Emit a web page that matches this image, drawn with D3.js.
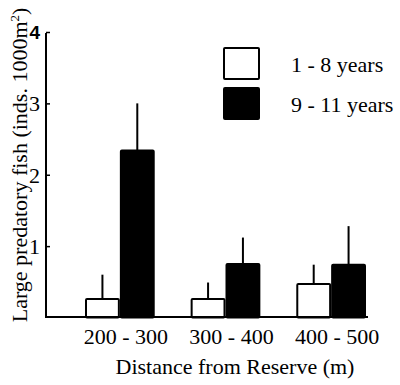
<!DOCTYPE html>
<html>
<head>
<meta charset="utf-8">
<script src="https://cdn.jsdelivr.net/npm/d3@7"></script>
<style>
  html, body { margin: 0; padding: 0; background: #fff; }
  svg { display: block; }
</style>
</head>
<body>
<div id="chart"></div>
<script>
// grouped bars with SE whiskers
const categories  = ["200 - 300", "300 - 400", "400 - 500"];
const groups      = ["1 - 8 years", "9 - 11 years"];
const youngMeans  = [0.26, 0.26, 0.47];
const youngErrors = [0.34, 0.23, 0.27];
const oldMeans    = [2.34, 0.75, 0.74];
const oldErrors   = [0.66, 0.37, 0.54];
const yTicks      = [1, 2, 3, 4];

(function () {
    const W = 400, H = 385;
    const fills = ["#fff", "#000"];
    const SERIF = "Liberation Serif";

    const svg = d3.select("#chart").append("svg")
        .attr("width", W).attr("height", H);

    // ── Scales ──────────────────────────────────────────────────────────
    const y = d3.scaleLinear().domain([0, 4]).range([317.5, 32]);
    const x0 = d3.scaleBand().domain(categories)
        .range([85, 366]).paddingInner(0.34).paddingOuter(0);
    const x1 = d3.scaleBand().domain(groups).range([0, x0.bandwidth()]);

    const rows = [];
    categories.forEach((c, i) => {
        rows.push({ cat: c, grp: groups[0], mean: youngMeans[i], err: youngErrors[i] });
        rows.push({ cat: c, grp: groups[1], mean: oldMeans[i], err: oldErrors[i] });
    });

    // ── Bars ────────────────────────────────────────────────────────────
    svg.append("g").selectAll("rect").data(rows).join("rect")
        .attr("x", d => x0(d.cat) + x1(d.grp) + 1)
        .attr("width", x1.bandwidth() - 2)
        .attr("y", d => y(d.mean))
        .attr("height", d => y(0) - y(d.mean))
        .attr("rx", 1)
        .attr("fill", d => fills[groups.indexOf(d.grp)])
        .attr("stroke", "#000").attr("stroke-width", 2);

    // ── Error whiskers (upper only) ─────────────────────────────────────
    svg.append("g").selectAll("line").data(rows).join("line")
        .attr("x1", d => x0(d.cat) + x1(d.grp) + x1.bandwidth() / 2)
        .attr("x2", d => x0(d.cat) + x1(d.grp) + x1.bandwidth() / 2)
        .attr("y1", d => y(d.mean))
        .attr("y2", d => y(d.mean + d.err))
        .attr("stroke", "#000").attr("stroke-width", 2);

    // ── Y axis ──────────────────────────────────────────────────────────
    const yAxis = svg.append("g").attr("transform", "translate(46,0)")
        .call(d3.axisLeft(y).tickValues(yTicks).tickFormat(d3.format("d"))
            .tickSizeInner(-4).tickSizeOuter(0).tickPadding(6));
    yAxis.select(".domain").remove();
    yAxis.selectAll(".tick line").attr("stroke", "#000").attr("stroke-width", 1.5);
    yAxis.selectAll(".tick text")
        .style("font-family", SERIF).style("font-size", "22px")
        .attr("fill", "#000").attr("dy", "0.33em");
    yAxis.selectAll(".tick text").filter(d => d === 4)
        .style("font-family", "Liberation Sans")
        .style("font-weight", "bold").style("font-size", "19px");
    svg.append("line")
        .attr("x1", 46).attr("x2", 46).attr("y1", 33).attr("y2", 318)
        .attr("stroke", "#000").attr("stroke-width", 2);

    // ── X axis ──────────────────────────────────────────────────────────
    svg.append("line")
        .attr("x1", 45).attr("x2", 368).attr("y1", 317).attr("y2", 317)
        .attr("stroke", "#000").attr("stroke-width", 2);
    const xAxis = svg.append("g").attr("transform", "translate(6,317)")
        .call(d3.axisBottom(x0).tickSize(0).tickPadding(0));
    xAxis.select(".domain").remove();
    xAxis.selectAll(".tick text")
        .style("font-family", SERIF).style("font-size", "22px")
        .attr("fill", "#000")
        .attr("dy", null).attr("y", 27);

    // ── Axis titles ─────────────────────────────────────────────────────
    svg.append("text")
        .attr("x", 235).attr("y", 374)
        .attr("text-anchor", "middle")
        .style("font-family", SERIF).style("font-size", "22px")
        .text("Distance from Reserve (m)");

    const yt = svg.append("text")
        .attr("transform", "translate(27,165) rotate(-90)")
        .attr("text-anchor", "middle")
        .style("font-family", SERIF).style("font-size", "22px");
    yt.append("tspan").text("Large predatory fish (inds. 1000m");
    yt.append("tspan").style("font-size", "13px").attr("dy", -8).text("2");
    yt.append("tspan").attr("dy", 8).text(")");

    // ── Legend ──────────────────────────────────────────────────────────
    const legend = svg.append("g").attr("transform", "translate(224,48)");
    groups.forEach((g, i) => {
        const row = legend.append("g").attr("transform", `translate(0,${i * 40})`);
        row.append("rect")
            .attr("width", 35).attr("height", 31).attr("rx", 1)
            .attr("fill", fills[i]).attr("stroke", "#000").attr("stroke-width", 2);
        row.append("text")
            .attr("x", 67).attr("y", 23.5)
            .style("font-family", SERIF).style("font-size", "22px")
            .text(g);
    });
})();
</script>
</body>
</html>
